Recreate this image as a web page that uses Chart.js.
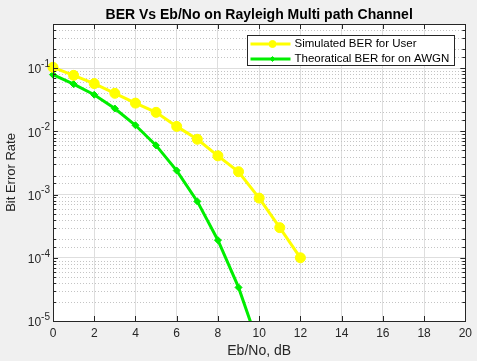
<!DOCTYPE html>
<html>
<head>
<meta charset="utf-8">
<script src="https://cdn.jsdelivr.net/npm/chart.js@4.4.1/dist/chart.umd.min.js"></script>
<style>
  html, body { margin: 0; padding: 0; background: #f0f0f0; }
  #wrap { width: 477px; height: 361px; }
</style>
</head>
<body>
<div id="wrap"><canvas id="berChart" width="477" height="361"></canvas></div>
<script>
// Eb/No points (dB) and BER values
const ebnoSim = [0, 1, 2, 3, 4, 5, 6, 7, 8, 9, 10, 11, 12];
const berSim = [0.103, 0.077, 0.057, 0.040, 0.028, 0.020, 0.012, 0.0075, 0.0041, 0.0023, 0.00088, 0.0003, 0.0001];

const ebnoTheory = [0, 1, 2, 3, 4, 5, 6, 7, 8, 9, 10];
const berTheory = [0.079, 0.056, 0.038, 0.023, 0.0125, 0.006, 0.0024, 0.00078, 0.00019, 0.000034, 0.0000039];

const seriesNames = ['Simulated BER for User', 'Theoratical BER for on AWGN'];

// axis ticks
const xTicks = [0, 2, 4, 6, 8, 10, 12, 14, 16, 18, 20];
const yTicks = [1e-5, 1e-4, 1e-3, 1e-2, 1e-1];
const yTickExponents = ['-5', '-4', '-3', '-2', '-1'];

const axisColor = '#262626';
const fontFamily = '"Liberation Sans", Arial, sans-serif';

function isDecade(v) {
  const e = Math.log10(v);
  return Math.abs(e - Math.round(e)) < 1e-6;
}

function toPoints(xs, ys) {
  return xs.map((x, i) => ({ x: x, y: ys[i] }));
}

// MATLAB style axes: white box, dotted minor grid, inward ticks, 10^n labels, boxed legend
const matlabLook = {
  id: 'matlabLook',
  beforeDraw(chart) {
    const { ctx, chartArea: a } = chart;
    ctx.save();
    ctx.fillStyle = '#f0f0f0';
    ctx.fillRect(0, 0, chart.width, chart.height);
    ctx.fillStyle = '#ffffff';
    ctx.fillRect(a.left, a.top, a.right - a.left, a.bottom - a.top);
    ctx.restore();
  },
  beforeDatasetsDraw(chart) {
    const { ctx, chartArea: a, scales } = chart;
    const y = scales.y;
    ctx.save();
    ctx.strokeStyle = '#c4c4c4';
    ctx.lineWidth = 1;
    ctx.setLineDash([1, 2]);
    y.ticks.forEach(t => {
      if (isDecade(t.value)) return;
      const py = Math.round(y.getPixelForValue(t.value)) + 0.5;
      if (py < a.top + 1 || py > a.bottom - 1) return;
      ctx.beginPath();
      ctx.moveTo(a.left, py);
      ctx.lineTo(a.right, py);
      ctx.stroke();
    });
    ctx.restore();
  },
  afterDatasetsDraw(chart) {
    const { ctx, chartArea: a, scales } = chart;
    const x = scales.x, y = scales.y;
    ctx.save();
    ctx.strokeStyle = axisColor;
    ctx.lineWidth = 1;

    // tick marks, pointing inwards, on all four sides
    ctx.beginPath();
    xTicks.forEach(v => {
      const px = Math.round(x.getPixelForValue(v)) + 0.5;
      ctx.moveTo(px, a.bottom); ctx.lineTo(px, a.bottom - 5);
      ctx.moveTo(px, a.top); ctx.lineTo(px, a.top + 5);
    });
    y.ticks.forEach(t => {
      const py = Math.round(y.getPixelForValue(t.value)) + 0.5;
      if (py < a.top || py > a.bottom) return;
      const len = isDecade(t.value) ? 5 : 3;
      ctx.moveTo(a.left, py); ctx.lineTo(a.left + len, py);
      ctx.moveTo(a.right, py); ctx.lineTo(a.right - len, py);
    });
    ctx.stroke();

    // axes box
    ctx.strokeRect(Math.round(a.left) + 0.5, Math.round(a.top) + 0.5,
      Math.round(a.right - a.left), Math.round(a.bottom - a.top));

    // y tick labels as 10 with superscript exponent
    ctx.fillStyle = axisColor;
    ctx.textAlign = 'right';
    ctx.textBaseline = 'middle';
    yTicks.forEach((v, i) => {
      const py = y.getPixelForValue(v);
      const right = a.left - 3;
      ctx.font = '10px ' + fontFamily;
      const expW = ctx.measureText(yTickExponents[i]).width;
      ctx.fillText(yTickExponents[i], right, py - 4);
      ctx.font = '12px ' + fontFamily;
      ctx.fillText('10', right - expW, py + 2);
    });

    // legend box in the top right corner
    const lw = 207, lh = 30;
    const lx = Math.round(a.right - 11 - lw) + 0.5;
    const ly = Math.round(a.top + 11) + 0.5;
    ctx.fillStyle = '#ffffff';
    ctx.fillRect(lx, ly, lw, lh);
    ctx.strokeStyle = axisColor;
    ctx.strokeRect(lx, ly, lw, lh);
    ctx.textAlign = 'left';
    ctx.font = '11.5px ' + fontFamily;
    chart.data.datasets.forEach((ds, i) => {
      const cy = ly + 8.5 + i * 15;
      ctx.strokeStyle = ds.borderColor;
      ctx.lineWidth = ds.borderWidth;
      ctx.beginPath();
      ctx.moveTo(lx + 3, cy);
      ctx.lineTo(lx + 43, cy);
      ctx.stroke();
      ctx.fillStyle = ds.backgroundColor;
      ctx.lineWidth = 1;
      Chart.helpers.drawPoint(ctx, {
        pointStyle: ds.pointStyle, radius: ds.pointRadius * 0.7, borderWidth: 1, rotation: 0
      }, lx + 25, cy);
      ctx.fillStyle = '#000000';
      ctx.fillText(ds.label, lx + 47, cy);
    });
    ctx.restore();
  }
};

const ctx = document.getElementById('berChart').getContext('2d');

const chart = new Chart(ctx, {
  type: 'line',
  data: {
    datasets: [{
      label: seriesNames[0],
      data: toPoints(ebnoSim, berSim),
      borderColor: '#ffff00',
      backgroundColor: '#ffff00',
      borderWidth: 3,
      pointStyle: 'circle',
      pointRadius: 5,
      pointBorderWidth: 1,
      tension: 0,
      clip: { left: 8, top: 8, right: 8, bottom: 0 }
    }, {
      label: seriesNames[1],
      data: toPoints(ebnoTheory, berTheory),
      borderColor: '#00ee00',
      backgroundColor: '#00ee00',
      borderWidth: 3,
      pointStyle: 'rectRot',
      pointRadius: 3.5,
      pointBorderWidth: 1,
      tension: 0,
      clip: { left: 8, top: 8, right: 8, bottom: 0 }
    }]
  },
  options: {
    responsive: false,
    animation: false,
    devicePixelRatio: 1,
    layout: { padding: { left: 0, right: 9, top: 0, bottom: 0 } },
    plugins: {
      legend: { display: false },
      tooltip: { enabled: false },
      title: {
        display: true,
        fullSize: false,
        text: 'BER Vs Eb/No on Rayleigh Multi path Channel',
        color: '#000000',
        font: { family: fontFamily, size: 14, weight: 'bold' },
        padding: { top: 6.5, bottom: 0.7 }
      }
    },
    scales: {
      x: {
        type: 'linear',
        min: 0,
        max: 20,
        afterFit: s => { s.height = 40; },
        ticks: {
          stepSize: 2,
          color: axisColor,
          padding: 5,
          font: { family: fontFamily, size: 12 }
        },
        grid: { color: '#dedede', drawTicks: false },
        border: { display: false },
        title: {
          display: true,
          text: 'Eb/No, dB',
          color: axisColor,
          font: { family: fontFamily, size: 14 },
          padding: { top: 0, bottom: 1 }
        }
      },
      y: {
        type: 'logarithmic',
        min: 1e-5,
        max: 0.5,
        afterFit: s => { s.width = 53; },
        ticks: { display: false },
        grid: {
          drawTicks: false,
          color: c => (c.tick && isDecade(c.tick.value)) ? '#dedede' : 'rgba(0,0,0,0)'
        },
        border: { display: false },
        title: {
          display: true,
          text: 'Bit Error Rate',
          color: axisColor,
          font: { family: fontFamily, size: 13 },
          padding: { top: 4, bottom: 0 }
        }
      }
    }
  },
  plugins: [matlabLook]
});
</script>
</body>
</html>
